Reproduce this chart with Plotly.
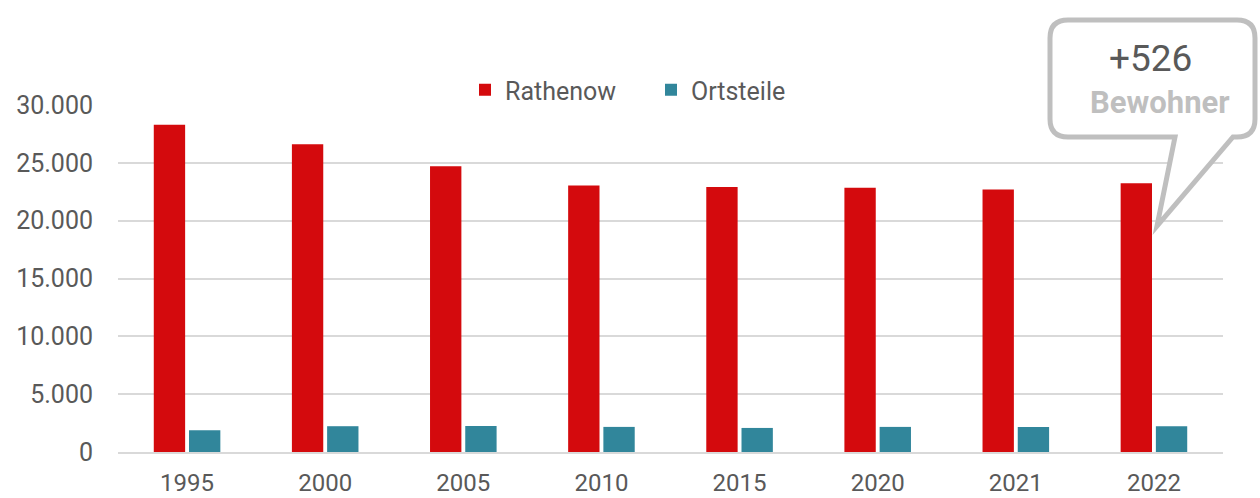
import plotly.graph_objects as go

years = ["1995", "2000", "2005", "2010", "2015", "2020", "2021", "2022"]
rathenow = [28300, 26600, 24700, 23050, 22900, 22850, 22700, 23230]
ortsteile = [1880, 2230, 2250, 2170, 2080, 2170, 2170, 2230]
y_ticks = [0, 5000, 10000, 15000, 20000, 25000, 30000]
y_ticktext = ["0", "5.000", "10.000", "15.000", "20.000", "25.000", "30.000"]

W, H = 1260, 498
ML, MR, MT, MB = 118, 37, 105, 46
PW, PH = W - ML - MR, H - MT - MB


def px(x, y):
    # pixel -> paper coords
    return (x - ML) / PW, (H - MB - y) / PH


def callout_path():
    r = 18
    L, R, T, B = 1050, 1255, 20, 137
    pts = [
        ("M", [(L + r, T)]),
        ("L", [(R - r, T)]),
        ("Q", [(R, T), (R, T + r)]),
        ("L", [(R, B - r)]),
        ("Q", [(R, B), (R - r, B)]),
        ("L", [(1233, B)]),
        ("L", [(1157, 226)]),
        ("L", [(1175, B)]),
        ("L", [(L + r, B)]),
        ("Q", [(L, B), (L, B - r)]),
        ("L", [(L, T + r)]),
        ("Q", [(L, T), (L + r, T)]),
    ]
    out = ""
    for cmd, ps in pts:
        out += cmd + " " + " ".join("%.5f,%.5f" % px(a, b) for a, b in ps) + " "
    return out + "Z"


fig = go.Figure()
fig.add_trace(go.Bar(x=years, y=rathenow, name="Rathenow", marker_color="#D40A0D",
                     marker_line_width=0))
fig.add_trace(go.Bar(x=years, y=ortsteile, name="Ortsteile", marker_color="#31869B",
                     marker_line_width=0))

lx, ly = px(465, 90)
fig.update_layout(
    width=W, height=H,
    margin=dict(l=ML, r=MR, t=MT, b=MB, autoexpand=False),
    plot_bgcolor="white", paper_bgcolor="white",
    font=dict(family="Roboto", size=25, color="#595959"),
    barmode="group", bargap=0.49, bargroupgap=0.11,
    showlegend=True,
    legend=dict(orientation="h", x=lx, xanchor="left", y=ly, yanchor="middle",
                font=dict(size=25, color="#595959"), itemwidth=30,
                entrywidth=141, entrywidthmode="pixels",
                bgcolor="rgba(0,0,0,0)"),
)
fig.update_xaxes(showgrid=False, showline=True, linecolor="#d9d9d9", linewidth=2,
                 ticks="", ticklabelstandoff=8, tickfont=dict(size=24), automargin=False)
fig.update_yaxes(range=[0, 30000], tickvals=y_ticks, ticktext=y_ticktext,
                 showgrid=True, gridcolor="#d9d9d9", gridwidth=2, zeroline=False,
                 showline=False, ticks="", ticklabelstandoff=24, tickfont=dict(size=25),
                 automargin=False)

fig.add_shape(type="path", path=callout_path(), xref="paper", yref="paper",
              line=dict(color="#BFBFBF", width=5), fillcolor="white", layer="above")

x1, y1 = px(1150, 58)
fig.add_annotation(text="+526", xref="paper", yref="paper", x=x1, y=y1,
                   xanchor="center", yanchor="middle",
                   showarrow=False, font=dict(size=37, color="#595959"))
x2, y2 = px(1160, 102)
fig.add_annotation(text="<b>Bewohner</b>", xref="paper", yref="paper", x=x2, y=y2,
                   xanchor="center", yanchor="middle",
                   showarrow=False, font=dict(size=31, color="#BFBFBF"))

# page has an 8px body margin by default; drop it so the figure fills the window
fig.write_html("out.html", config={"displayModeBar": False},
               post_script="document.body.style.margin='0';")
